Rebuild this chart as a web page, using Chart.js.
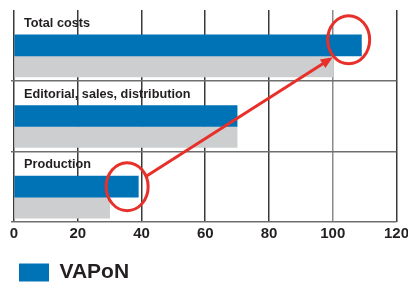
<!DOCTYPE html>
<html>
<head>
<meta charset="utf-8">
<script src="https://cdn.jsdelivr.net/npm/chart.js@4.4.1/dist/chart.umd.min.js"></script>
<style>
  html, body { margin: 0; padding: 0; background: #fff; overflow: hidden; }
  #wrap { width: 412px; height: 283px; }
</style>
</head>
<body>
<div id="wrap"><canvas id="myChart"></canvas></div>
<script>
var categories = ['Total costs', 'Editorial, sales, distribution', 'Production'];
var vaponValues = [109, 70, 39];
var otherValues = [100, 70, 30];
var xTicks = [0, 20, 40, 60, 80, 100, 120];

// red marks: ellipses around bar ends, arrow between them (data units)
var circles = [
    { x: 105, cat: 0, dy: -0.08 },
    { x: 35.5, cat: 2, dy: 0 }
];
var arrow = { from: { x: 41.6, cat: 2, dy: -0.15 }, to: { x: 100, cat: 0, dy: 0.17 } };

var fontFamily = '"Liberation Sans", Arial, sans-serif';

function yPix(scale, cat, dy) {
    var step = scale.getPixelForValue(1) - scale.getPixelForValue(0);
    return scale.getPixelForValue(cat) + dy * step;
}

var insideLabels = {
    id: 'insideLabels',
    afterDatasetsDraw: function(chart) {
        var ctx = chart.ctx, y = chart.scales.y, x = chart.scales.x;
        var step = y.getPixelForValue(1) - y.getPixelForValue(0);
        ctx.save();
        ctx.font = 'bold 13.5px ' + fontFamily;
        ctx.fillStyle = '#231f20';
        ctx.textBaseline = 'middle';
        categories.forEach(function(c, i) {
            var tx = x.left + 10, ty = y.getPixelForValue(i) - step * 0.31;
            ctx.save();
            ctx.translate(tx, ty);
            ctx.scale(0.94, 1);
            ctx.fillText(c, 0, 0);
            ctx.restore();
        });
        ctx.restore();
    }
};

var redMarks = {
    id: 'redMarks',
    afterDatasetsDraw: function(chart) {
        var ctx = chart.ctx, y = chart.scales.y, x = chart.scales.x;
        ctx.save();
        ctx.strokeStyle = '#e8302a';
        ctx.fillStyle = '#e8302a';
        ctx.lineWidth = 3;
        circles.forEach(function(c) {
            ctx.beginPath();
            ctx.ellipse(x.getPixelForValue(c.x), yPix(y, c.cat, c.dy), 21, 24, 0, 0, Math.PI * 2);
            ctx.stroke();
        });
        var x1 = x.getPixelForValue(arrow.from.x), y1 = yPix(y, arrow.from.cat, arrow.from.dy);
        var x2 = x.getPixelForValue(arrow.to.x), y2 = yPix(y, arrow.to.cat, arrow.to.dy);
        var a = Math.atan2(y2 - y1, x2 - x1);
        var head = 13;
        ctx.beginPath();
        ctx.moveTo(x1, y1);
        ctx.lineTo(x2 - Math.cos(a) * head * 0.8, y2 - Math.sin(a) * head * 0.8);
        ctx.stroke();
        ctx.beginPath();
        ctx.moveTo(x2, y2);
        ctx.lineTo(x2 - head * Math.cos(a - 0.4), y2 - head * Math.sin(a - 0.4));
        ctx.lineTo(x2 - head * Math.cos(a + 0.4), y2 - head * Math.sin(a + 0.4));
        ctx.closePath();
        ctx.fill();
        ctx.restore();
    }
};

var ctx = document.getElementById('myChart').getContext('2d');
var chart = new Chart(ctx, {
    type: 'bar',
    data: {
        labels: categories,
        datasets: [{
            label: 'spacer',
            data: [null, null, null],
            barThickness: 21
        }, {
            label: 'VAPoN',
            data: vaponValues,
            backgroundColor: '#0072b6',
            barThickness: 21
        }, {
            label: 'other',
            data: otherValues,
            backgroundColor: '#cdcecf',
            barThickness: 21
        }]
    },
    options: {
        indexAxis: 'y',
        responsive: true,
        maintainAspectRatio: false,
        animation: false,
        layout: { padding: { left: 11, top: 10, right: 0, bottom: -10 } },
        scales: {
            x: {
                min: 0,
                max: 120,
                afterBuildTicks: function(axis) {
                    axis.ticks = xTicks.map(function(v) { return { value: v }; });
                },
                afterFit: function(axis) { axis.height += 8; },
                border: { display: false },
                grid: {
                    color: function(c) { return c.tick && c.tick.value === 100 ? '#8a8a8a' : '#3a3a3a'; },
                    lineWidth: 1.5,
                    drawTicks: false
                },
                ticks: {
                    color: '#231f20',
                    padding: 3,
                    font: { family: fontFamily, size: 15, weight: 'bold' }
                }
            },
            y: {
                border: { display: false },
                grid: {
                    color: function(c) { return c.index === 0 ? 'rgba(0,0,0,0)' : '#6e6e6e'; },
                    lineWidth: 1.5,
                    tickLength: 3,
                    offset: true
                },
                ticks: { display: false }
            }
        },
        plugins: {
            tooltip: { enabled: false },
            legend: {
                position: 'bottom',
                align: 'start',
                labels: {
                    filter: function(item) { return item.text === 'VAPoN'; },
                    boxWidth: 30,
                    boxHeight: 18,
                    color: '#231f20',
                    padding: 8,
                    font: { family: fontFamily, size: 21, weight: 'bold' }
                }
            }
        }
    },
    plugins: [insideLabels, redMarks]
});
</script>
</body>
</html>
